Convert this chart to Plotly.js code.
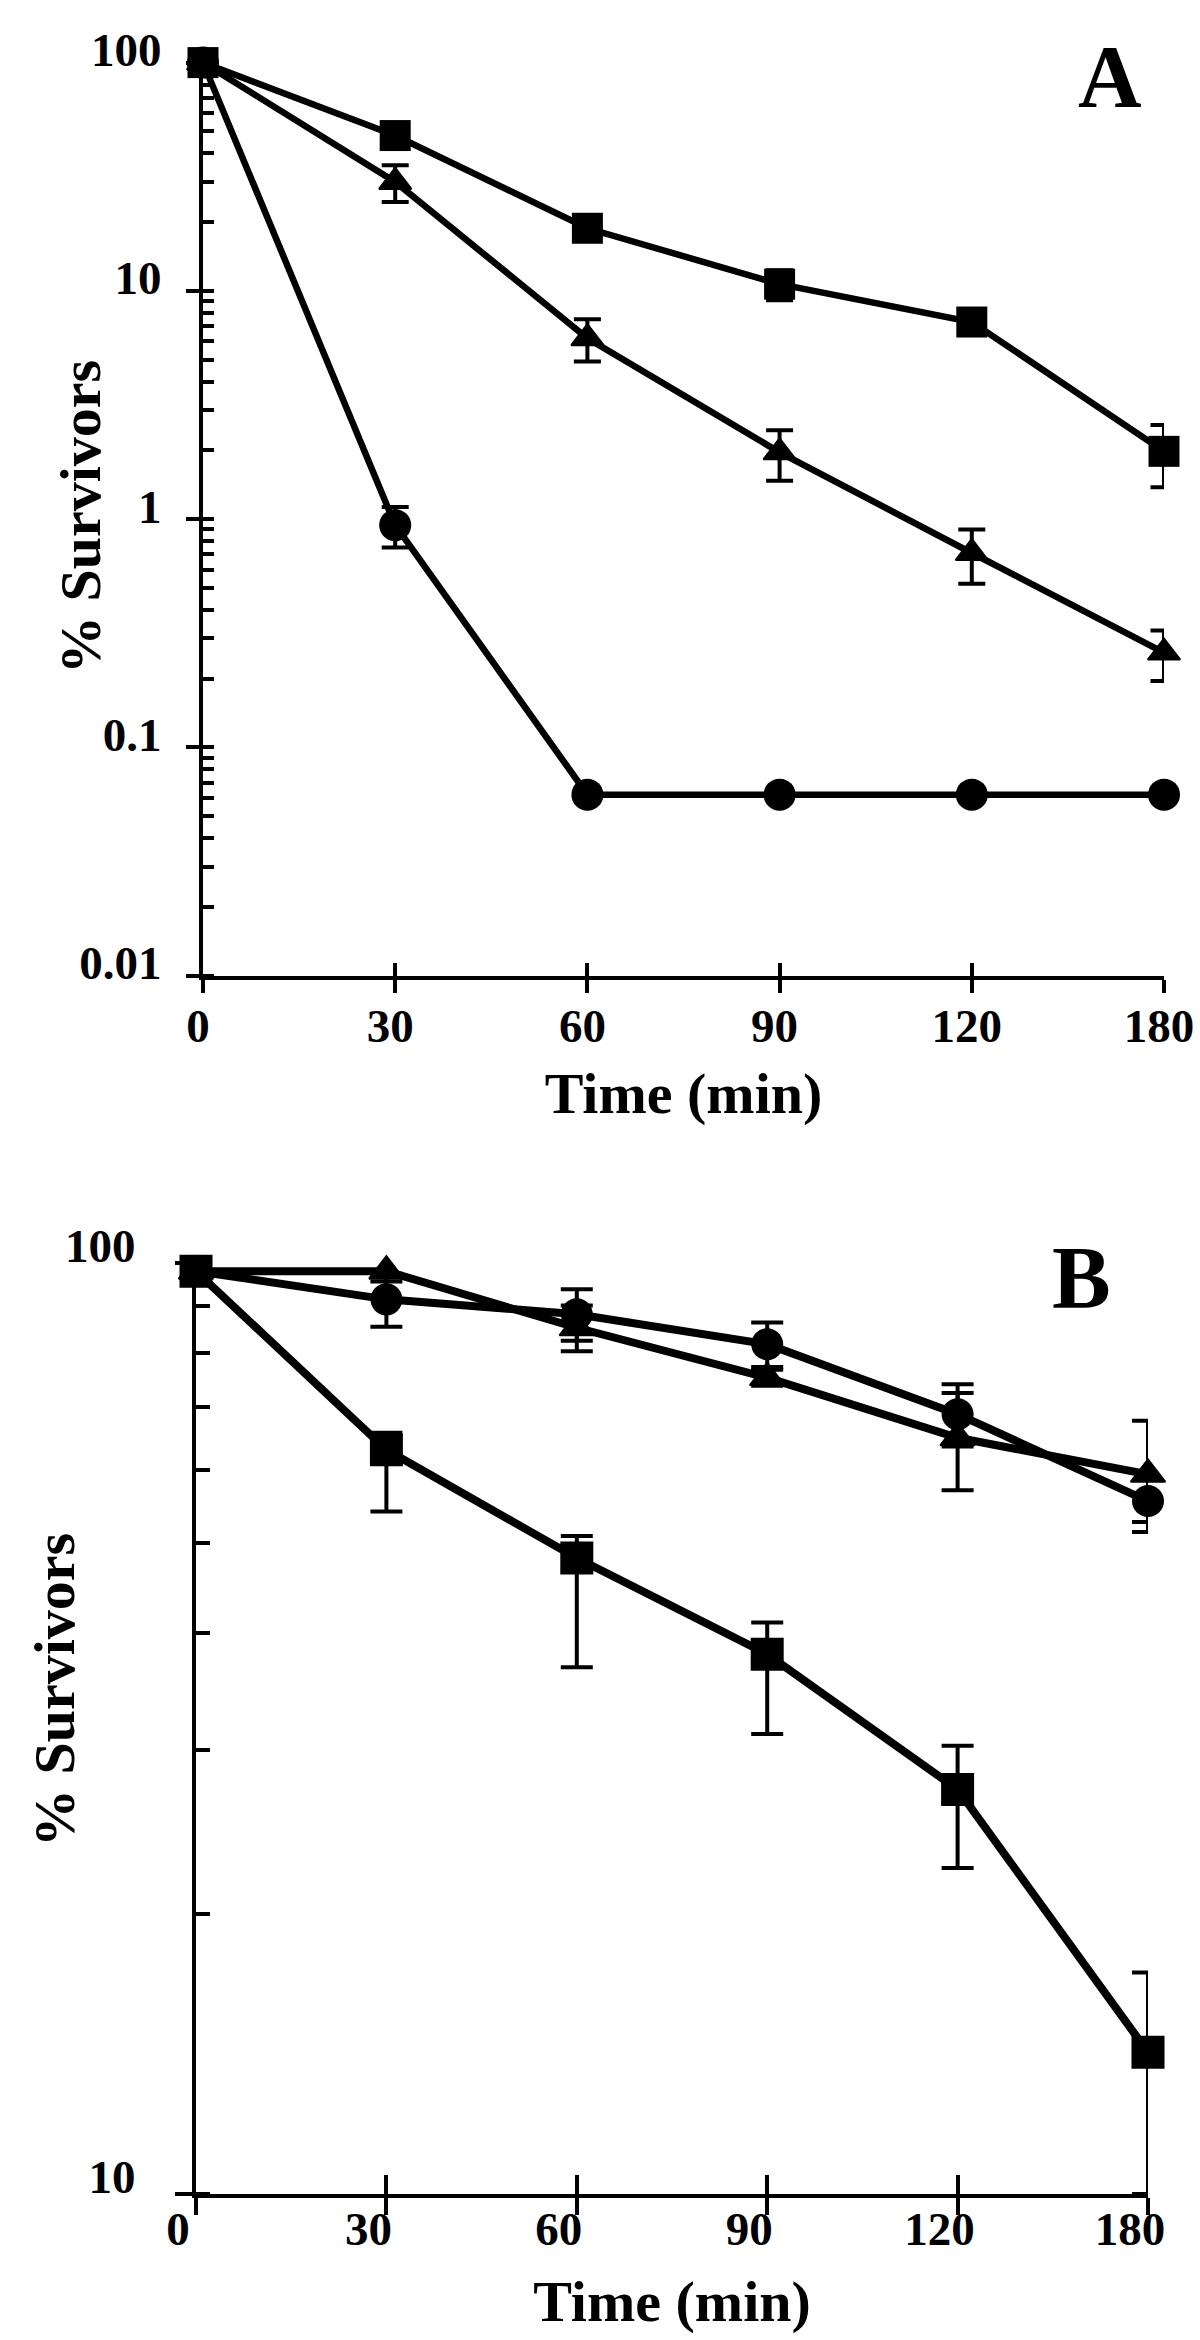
<!DOCTYPE html>
<html><head><meta charset="utf-8">
<script src="https://cdn.plot.ly/plotly-3.0.1.min.js"></script>
<style>html,body{margin:0;padding:0;background:#fff}#chart{width:1200px;height:2340px}</style>
</head><body><div id="chart"></div>
<script>
// ---------- data ----------
const timeLabels = ['0', '30', '60', '90', '120', '180'];

// Panel A
const sqA      = [100, 47.9, 18.8, 10.7, 7.3, 1.98];
const sqAErr   = [0, 0, 0, 1.6, 0, 0.6];
const triA     = [100, 30, 6.2, 1.96, 0.71, 0.26];
const triAErr  = [0, 5.5, 1.3, 0.49, 0.19, 0.065];
const circA    = [100, 0.94, 0.062, 0.062, 0.062, 0.062];
const circAErr = [0, 0.19, 0, 0, 0, 0];
const yTicksA    = [0.01, 0.1, 1, 10, 100];
const yTickTextA = ['0.01', '0.1', '1', '10', '100'];

// Panel B
const sqB        = [98, 63.0, 48.2, 38.0, 27.2, 14.2];
const sqBPlus    = [0, 2.7, 2.7, 3.1, 3.1, 3.1];
const sqBMinus   = [0, 8.9, 11.4, 6.8, 4.8, 4.2];
const circB      = [98, 91.4, 88.1, 81.8, 68.8, 55.5];
const circBPlus  = [0, 6, 5.6, 4.5, 5.3, 4.1];
const circBMinus = [0, 6, 5.6, 4.5, 5.3, 4.1];
const triB       = [98, 98, 85.2, 75.3, 64.9, 59.3];
const triBPlus   = [0, 2.5, 4.8, 1.5, 7.6, 8.4];
const triBMinus  = [0, 2.5, 4.8, 1.5, 7.9, 6.6];
const yTicksB    = [10, 100];
const yTickTextB = ['10', '100'];

// ---------- style ----------
const F = "'Liberation Serif', 'Times New Roman', serif";
const tickFont  = {family: F, size: 47, color: '#000', weight: 'bold'};
const titleFont = {family: F, size: 58, color: '#000', weight: 'bold'};
const W = 1200, H = 2340;

function series(x, y, plus, minus, symbol, size, lw, xa, ya, capW, lineExtra) {
  return {
    type: 'scatter', mode: 'lines+markers', x: x, y: y,
    xaxis: xa, yaxis: ya, cliponaxis: false, showlegend: false, hoverinfo: 'skip',
    line: {color: '#000', width: lw},
    marker: {symbol: symbol, size: size, color: '#000', line: {color: '#000', width: lineExtra || 0}},
    error_y: {type: 'data', symmetric: false, array: plus, arrayminus: minus,
              visible: true, color: '#000', thickness: 4, width: capW}
  };
}

const data = [
  series(timeLabels, circA, circAErr, circAErr, 'circle', 32, 6.5, 'x', 'y', 13.5),
  series(timeLabels, triA, triAErr, triAErr, 'triangle-up', 28, 6.5, 'x', 'y', 13.5, 2),
  series(timeLabels, sqA, sqAErr, sqAErr, 'square', 31, 6.5, 'x', 'y', 13.5),
  series(timeLabels, circB, circBPlus, circBMinus, 'circle', 32, 8, 'x2', 'y2', 16),
  series(timeLabels, triB, triBPlus, triBMinus, 'triangle-up', 30, 8, 'x2', 'y2', 16, 2),
  series(timeLabels, sqB, sqBPlus, sqBMinus, 'square', 33, 8, 'x2', 'y2', 16),
  // carriers for the overlay axes that draw the inner half of the crossing ticks
  {type: 'scatter', mode: 'none', x: timeLabels, y: sqA, xaxis: 'x3', yaxis: 'y3', showlegend: false, hoverinfo: 'skip'},
  {type: 'scatter', mode: 'none', x: timeLabels, y: sqB, xaxis: 'x4', yaxis: 'y4', showlegend: false, hoverinfo: 'skip'}
];

const domXA = [203 / W, 1164 / W];
const domYA = [(H - 975.5) / H, (H - 62.6) / H];
const domXB = [196 / W, 1148 / W];
const domYB = [(H - 2194) / H, (H - 1263) / H];

const baseAx = {showgrid: false, zeroline: false, fixedrange: true, tickcolor: '#000',
                linecolor: '#000', tickfont: tickFont};

const layout = {
  width: W, height: H,
  margin: {l: 0, r: 0, t: 0, b: 0},
  paper_bgcolor: '#fff', plot_bgcolor: 'rgba(0,0,0,0)',
  showlegend: false,
  xaxis: Object.assign({}, baseAx, {
    domain: domXA, anchor: 'y', type: 'category', categoryorder: 'array', categoryarray: timeLabels,
    range: [0, 5], showline: true, linewidth: 4, ticks: 'outside', ticklen: 13, tickwidth: 4,
    ticklabelstandoff: -7, ticklabelshift: -5,
    title: {text: 'Time (min)', font: titleFont, standoff: 22}
  }),
  yaxis: Object.assign({}, baseAx, {
    domain: domYA, anchor: 'x', type: 'log', range: [-2, 2],
    tickmode: 'array', tickvals: yTicksA, ticktext: yTickTextA,
    showline: true, linewidth: 4, ticks: 'outside', ticklen: 13, tickwidth: 4,
    ticklabelstandoff: 15, ticklabelshift: -13,
    minor: {ticks: 'inside', ticklen: 11, tickwidth: 4, tickcolor: '#000', dtick: 'D1', showgrid: false}
  }),
  xaxis3: Object.assign({}, baseAx, {
    overlaying: 'x', anchor: 'y3', type: 'linear', range: [0, 5], tickmode: 'linear', tick0: 0, dtick: 1,
    ticks: 'inside', ticklen: 13, tickwidth: 4, showticklabels: false, showline: false
  }),
  yaxis3: Object.assign({}, baseAx, {
    overlaying: 'y', anchor: 'x3', type: 'log', range: [-2, 2], tickmode: 'array', tickvals: yTicksA,
    ticks: 'inside', ticklen: 11, tickwidth: 4, showticklabels: false, showline: false
  }),
  xaxis2: Object.assign({}, baseAx, {
    domain: domXB, anchor: 'y2', type: 'category', categoryorder: 'array', categoryarray: timeLabels,
    range: [0, 5], showline: true, linewidth: 4, ticks: 'outside', ticklen: 17, tickwidth: 4,
    ticklabelstandoff: -26, ticklabelshift: -18,
    title: {text: 'Time (min)', font: titleFont, standoff: 27}
  }),
  yaxis2: Object.assign({}, baseAx, {
    domain: domYB, anchor: 'x2', type: 'log', range: [1, 2],
    tickmode: 'array', tickvals: yTicksB, ticktext: yTickTextB,
    showline: true, linewidth: 4, ticks: 'outside', ticklen: 17, tickwidth: 4,
    ticklabelstandoff: 30, ticklabelshift: -17,
    minor: {ticks: 'inside', ticklen: 14, tickwidth: 4, tickcolor: '#000', dtick: 'D1', showgrid: false}
  }),
  xaxis4: Object.assign({}, baseAx, {
    overlaying: 'x2', anchor: 'y4', type: 'linear', range: [0, 5], tickmode: 'linear', tick0: 0, dtick: 1,
    ticks: 'inside', ticklen: 19, tickwidth: 4, showticklabels: false, showline: false
  }),
  yaxis4: Object.assign({}, baseAx, {
    overlaying: 'y2', anchor: 'x4', type: 'log', range: [1, 2],
    ticks: '', showticklabels: false, showline: false
  }),
  annotations: [
    {text: 'A', xref: 'paper', yref: 'paper', x: 1110 / W, y: (H - 77) / H, showarrow: false,
     xanchor: 'center', yanchor: 'middle', font: {family: F, size: 88, color: '#000', weight: 'bold'}},
    {text: 'B', xref: 'paper', yref: 'paper', x: 1081 / W, y: (H - 1277) / H, showarrow: false,
     xanchor: 'center', yanchor: 'middle', font: {family: F, size: 88, color: '#000', weight: 'bold'}},
    {text: '% Survivors', textangle: -90, xref: 'paper', yref: 'paper', x: 80 / W, y: (H - 517) / H,
     showarrow: false, xanchor: 'center', yanchor: 'middle', font: titleFont},
    {text: '% Survivors', textangle: -90, xref: 'paper', yref: 'paper', x: 54 / W, y: (H - 1690) / H,
     showarrow: false, xanchor: 'center', yanchor: 'middle', font: titleFont}
  ]
};

Plotly.newPlot('chart', data, layout, {displayModeBar: false, staticPlot: true});
</script>
</body></html>
